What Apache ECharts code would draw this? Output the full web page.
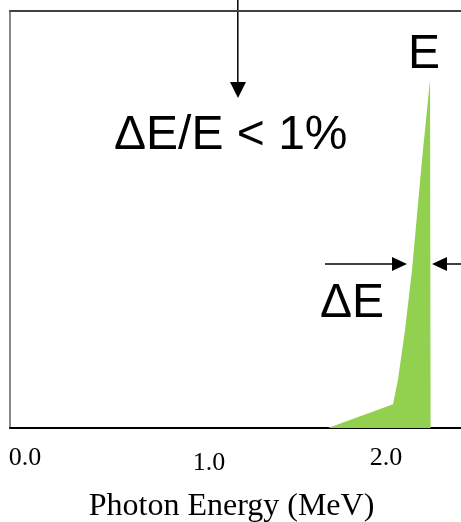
<!DOCTYPE html>
<html>
<head>
<meta charset="utf-8">
<script src="https://cdn.jsdelivr.net/npm/echarts@6/dist/echarts.min.js"></script>
<style>
html,body{margin:0;padding:0;background:#fff;}
#c{width:461px;height:522px;}
</style>
</head>
<body>
<div id="c"></div>
<script>
// Data
var energyMeV = [1.679, 2.039, 2.066, 2.105, 2.144, 2.199, 2.244, 2.247];
var counts    = [0, 5.7, 11.5, 23.4, 37.8, 64.1, 83.5, 0];
var xTickValues = [0, 1, 2];
var xTickLabels = ['0.0', '1.0', '2.0'];
var xAxisTitle = 'Photon Energy (MeV)';
var annResolution = '\u0394E/E < 1%';
var annPeak = 'E';
var annWidth = '\u0394E';

var seriesData = energyMeV.map(function (e, i) { return [e, counts[i]]; });

var chart = echarts.init(document.getElementById('c'), null, {renderer: 'canvas'});
var serif = 'Liberation Serif';
var sans = 'Liberation Sans';

var option = {
  animation: false,
  backgroundColor: '#ffffff',
  grid: {left: 10, top: 11, right: 0, bottom: 94, containLabel: false},
  xAxis: [{
    type: 'value',
    min: -0.0831,
    max: 2.4155,
    position: 'bottom',
    axisLine: {show: true, onZero: false, lineStyle: {color: '#000000', width: 2}},
    axisTick: {show: false},
    splitLine: {show: false},
    axisLabel: {
      show: true,
      customValues: xTickValues,
      margin: 17,
      formatter: function (v) {
        var i = xTickValues.indexOf(v);
        var t = i >= 0 ? xTickLabels[i] : '';
        return i === 1 ? '{b|' + t + '}' : '{a|' + t + '}';
      },
      rich: {
        a: {fontFamily: serif, fontSize: 26, color: '#000'},
        b: {fontFamily: serif, fontSize: 26, color: '#000', padding: [5, 0, 0, 7]}
      }
    }
  }, {
    type: 'value',
    min: 0, max: 1,
    position: 'top',
    axisLine: {show: true, onZero: false, lineStyle: {color: '#404040', width: 2}},
    axisTick: {show: false},
    axisLabel: {show: false},
    splitLine: {show: false}
  }],
  yAxis: {
    type: 'value',
    min: 0, max: 100,
    axisLine: {show: true, onZero: false, lineStyle: {color: '#888888', width: 2}},
    axisTick: {show: false},
    axisLabel: {show: false},
    splitLine: {show: false}
  },
  series: [{
    type: 'line',
    data: seriesData,
    showSymbol: false,
    symbol: 'none',
    lineStyle: {width: 0},
    areaStyle: {color: '#92D050', opacity: 1},
    z: 1
  }],
  graphic: [
    // x axis title
    {type: 'text', x: 231.5, y: 507, style: {text: xAxisTitle, font: '32px "' + serif + '"', fill: '#000', textAlign: 'center', textVerticalAlign: 'middle'}},
    // annotations
    {type: 'text', x: 114, y: 135.5, style: {text: annResolution, font: '48px "' + sans + '"', fill: '#000', textAlign: 'left', textVerticalAlign: 'middle'}},
    {type: 'text', x: 408, y: 54.5, style: {text: annPeak, font: '48px "' + sans + '"', fill: '#000', textAlign: 'left', textVerticalAlign: 'middle'}},
    {type: 'text', x: 320, y: 304, style: {text: annWidth, font: '48px "' + sans + '"', fill: '#000', textAlign: 'left', textVerticalAlign: 'middle'}},
    // vertical arrow
    {type: 'line', shape: {x1: 237.8, y1: 0, x2: 237.8, y2: 84}, style: {stroke: '#000', lineWidth: 1.5}},
    {type: 'polygon', shape: {points: [[230, 82], [246, 82], [238, 98]]}, style: {fill: '#000'}},
    // left horizontal arrow
    {type: 'line', shape: {x1: 325, y1: 264, x2: 393, y2: 264}, style: {stroke: '#000', lineWidth: 1.5}},
    {type: 'polygon', shape: {points: [[392, 257], [392, 271], [407, 264]]}, style: {fill: '#000'}},
    // right horizontal arrow
    {type: 'line', shape: {x1: 446, y1: 264, x2: 462, y2: 264}, style: {stroke: '#000', lineWidth: 1.5}},
    {type: 'polygon', shape: {points: [[447, 257], [447, 271], [432, 264]]}, style: {fill: '#000'}}
  ]
};
chart.setOption(option);
</script>
</body>
</html>
